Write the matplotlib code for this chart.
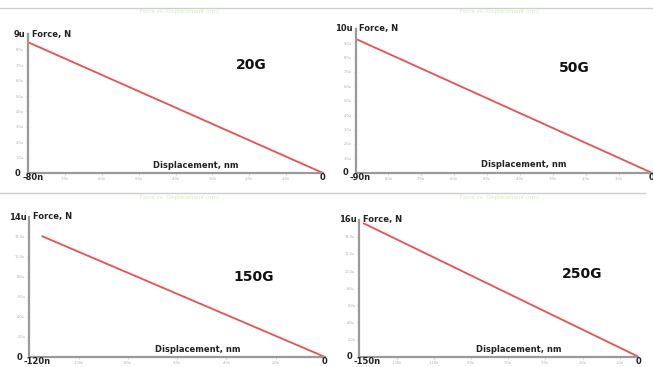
import matplotlib
matplotlib.use("Agg")
from matplotlib import pyplot as plt
import numpy as np

# data (displacement in nm, force in uN)
labels = ["20G", "50G", "150G", "250G"]
disp_start = [-80, -90, -115, -148]
force_start = [8.5, 9.3, 12.1, 15.6]
x_min = [-80, -90, -120, -150]
y_max = [9, 10, 14, 16]
x_step = [10, 10, 20, 20]
y_step = [1, 1, 2, 2]

W, H = 653, 367
# axes boxes in pixels: left, right, bottom, top
boxes = [(28, 323, 173, 34.5),
         (355.5, 651.5, 172.7, 28.7),
         (29.3, 325, 357, 217),
         (359.3, 638.3, 356.7, 219.6)]
# where the big label sits, in axes fractions
lab_pos = [(0.756, 0.78), (0.74, 0.725), (0.76, 0.574), (0.80, 0.60)]

red = "#e8514f"
grey = "#9a9a9a"

fig = plt.figure(figsize=(W / 100, H / 100), dpi=100)
fig.patch.set_facecolor("white")

# faint separator lines and green captions
for yy, x0, x1 in [(8, 0, W), (193, 0, 645)]:
    fig.add_artist(plt.Line2D([x0 / W, x1 / W], [1 - yy / H, 1 - yy / H],
                              color="#cfcfcf", lw=1.0))
for (cx, cy) in [(180, 12), (500, 12), (180, 197), (500, 197)]:
    fig.text(cx / W, 1 - cy / H, "Force vs. Displacement (nm)",
             color="#cdeeb5", fontsize=4, ha="center", va="center")


for i in range(4):
    l, r, b, t = boxes[i]
    ax = fig.add_axes([l / W, 1 - b / H, (r - l) / W, (b - t) / H])
    ax.plot([disp_start[i], 0], [force_start[i], 0], color=red, lw=1.3,
            solid_capstyle="butt")
    ax.set_xlim(x_min[i], 0)
    ax.set_ylim(0, y_max[i])
    for s in ["top", "right"]:
        ax.spines[s].set_visible(False)
    for s in ["left", "bottom"]:
        ax.spines[s].set_color(grey)
        ax.spines[s].set_linewidth(1.6)
    ax.patch.set_alpha(0)

    xt = np.arange(x_min[i] + x_step[i], 0, x_step[i])
    yt = np.arange(y_step[i], y_max[i], y_step[i])
    ax.set_xticks(xt)
    ax.set_xticklabels(["%dn" % v for v in xt])
    ax.set_yticks(yt)
    ax.set_yticklabels(["%.1fu" % v for v in yt])
    ax.tick_params(axis="both", length=1.5, width=0.5, color="#bbbbbb",
                   labelsize=2.5, labelcolor="#aaaaaa", pad=1.5)

    bold = dict(fontsize=6, fontweight="bold", color="#222222")
    ax.text(-0.008, 1.0, "%du" % y_max[i], ha="right", va="center",
            transform=ax.transAxes, **bold)
    ax.text(0.012, 1.0, "Force, N", ha="left", va="center",
            transform=ax.transAxes, **bold)
    ax.text(-0.025, 0.0, "0", ha="right", va="center",
            transform=ax.transAxes, **bold)
    ax.text(-0.02, -0.035, "%dn" % x_min[i], ha="left", va="center",
            transform=ax.transAxes, **bold)
    ax.text(1.0, -0.035, "0", ha="center", va="center",
            transform=ax.transAxes, **bold)
    ax.text(0.57, 0.055, "Displacement, nm", ha="center", va="center",
            transform=ax.transAxes, **bold)
    ax.text(lab_pos[i][0], lab_pos[i][1], labels[i], ha="center",
            va="center", transform=ax.transAxes, fontsize=10,
            fontweight="bold", color="#111111")

fig.savefig("out.png", dpi=100, facecolor="white")
